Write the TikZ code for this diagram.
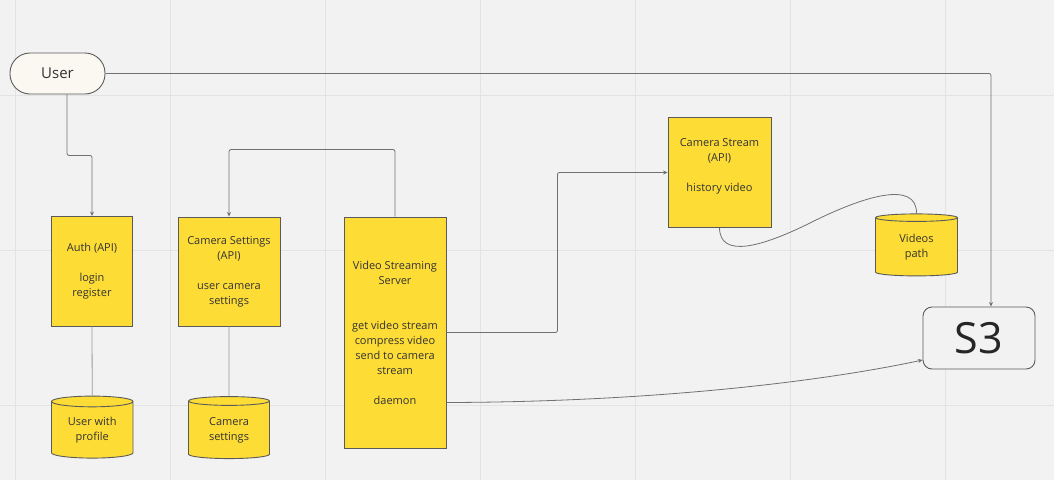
\documentclass[tikz,border=0pt]{standalone}
\usepackage{fontspec}
\setmainfont{Open Sans}
\usetikzlibrary{shapes.geometric,arrows.meta,calc}
\definecolor{bgc}{HTML}{F2F2F2}
\definecolor{gridc}{HTML}{E3E3E3}
\definecolor{yel}{HTML}{FDDC35}
\definecolor{edge}{HTML}{5A5A5A}
\definecolor{txt}{HTML}{333333}
\definecolor{cream}{HTML}{FBF8F2}
\definecolor{linec}{HTML}{707070}
\definecolor{lightline}{HTML}{9A9A9A}
\tikzset{
  box/.style={draw=edge, fill=yel, line width=0.9pt, inner sep=0pt, align=center,
    text=txt, font=\fontsize{11}{15}\selectfont},
  db/.style={cylinder, shape border rotate=90, aspect=0.22, draw=edge, fill=yel,
    line width=0.9pt, inner sep=0pt, align=center, text=txt,
    font=\fontsize{11}{15}\selectfont, minimum height=62pt, minimum width=81pt},
  conn/.style={draw=linec, line width=0.8pt},
  arr/.style={conn, -{Stealth[length=4.5pt,width=4pt]}},
  plain/.style={draw=lightline, line width=0.8pt},
}
\begin{document}
\begin{tikzpicture}[x=1pt,y=-1pt]
\fill[bgc] (0,0) rectangle (1054,480);
\useasboundingbox (0,0) rectangle (1054,480);
% grid
\foreach \gx in {15.7,170.7,325.7,480.7,635.7,790.7,945.7}
  \draw[gridc, line width=1.3pt] (\gx,0) -- (\gx,480);
\foreach \gy in {95.7,250.7,405.7}
  \draw[gridc, line width=1.3pt] (0,\gy) -- (1054,\gy);

% nodes
\node[draw=edge, fill=cream, line width=0.9pt, rounded corners=20pt,
  minimum width=95pt, minimum height=41pt, inner sep=0pt, text=txt,
  font=\fontsize{15}{18}\selectfont] (user) at (57.5,73.5) {User};

\node[box, minimum width=81pt, minimum height=109.5pt] (auth) at (92,271.25)
  {Auth (API)\\[15pt]login\\register};
\node[box, minimum width=102pt, minimum height=109pt] (cs) at (229,271.5)
  {Camera Settings\\(API)\\[15pt]user camera\\settings};
\node[box, minimum width=102pt, minimum height=231pt] (vss) at (395,332.5)
  {Video Streaming\\Server\\[30pt]get video stream\\compress video\\send to camera\\stream\\[15pt]daemon};
\node[box, minimum width=103pt, minimum height=110pt] (camstream) at (719.5,172.5)
  {Camera Stream\\(API)\\[15pt]history video\\\mbox{}};

\node[db, minimum width=81.5pt] (db1) at (92.25,430) {User with\\profile};
\node[db] (db2) at (229,430) {Camera\\settings};
\node[db, minimum width=82pt] (videos) at (916.5,247) {Videos\\path};

\node[draw=edge, line width=0.9pt, rounded corners=9pt, fill=bgc,
  minimum width=112pt, minimum height=62pt, inner sep=0pt, text=black!85,
  font=\fontsize{43}{48}\selectfont] (s3) at (979,338) {S3};

% connectors
\draw[arr, rounded corners=2pt] ([xshift=9.5pt]user.south) -- ++(0,61) -| (auth.north);
\draw[arr, rounded corners=2pt] (user.east) -| ([xshift=12pt]s3.north);
\draw[arr, rounded corners=2pt] (vss.north) -- ++(0,-67) -| (cs.north);
\draw[arr, rounded corners=2pt] (vss.east) -- ++(111,0) |- (camstream.west);
\draw[plain] (auth.south) -- (db1.north);
\draw[plain] (cs.south) -- (db2.north);
\draw[arr] ([yshift=-70pt]vss.east) .. controls (650,402) and (820,382) .. ([yshift=-22pt]s3.west);
\draw[conn] (camstream.south) .. controls (720,258) and (760,248) .. (812,222)
  .. controls (864,196) and (917,180) .. (videos.north);
\end{tikzpicture}
\end{document}
